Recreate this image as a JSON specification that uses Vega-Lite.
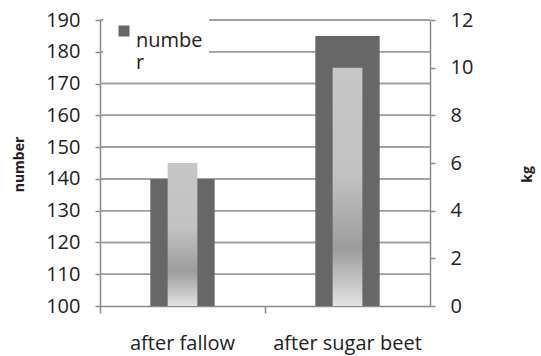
{
  "$schema": "https://vega.github.io/schema/vega-lite/v6.json",
  "autosize": "none",
  "width": 330,
  "height": 286,
  "padding": {"left": 100, "top": 20, "right": 111, "bottom": 50},
  "background": "white",
  "config": {
    "font": "Open Sans",
    "view": {"stroke": null},
    "axis": {
      "labelFont": "Open Sans",
      "labelFontSize": 20,
      "labelColor": "#222222",
      "labelOverlap": false,
      "titleFont": "Open Sans",
      "titleColor": "#222222",
      "domainColor": "#8a8a8a",
      "domainWidth": 1.5,
      "tickColor": "#8a8a8a",
      "tickWidth": 1.5,
      "grid": false
    },
    "axisLeft": {"tickCount": 10, "labelOverlap": false},
    "rule": {"color": "#9c9c9c", "strokeWidth": 1.5}
  },
  "data": {
    "values": [
      {"treatment": "after fallow", "number": 140, "kg": 6},
      {"treatment": "after sugar beet", "number": 185, "kg": 10}
    ]
  },
  "layer": [
    {
      "layer": [
        {"mark": "rule", "encoding": {"y": {"datum": 110}}},
        {"mark": "rule", "encoding": {"y": {"datum": 120}}},
        {"mark": "rule", "encoding": {"y": {"datum": 130}}},
        {"mark": "rule", "encoding": {"y": {"datum": 140}}},
        {"mark": "rule", "encoding": {"y": {"datum": 150}}},
        {"mark": "rule", "encoding": {"y": {"datum": 160}}},
        {"mark": "rule", "encoding": {"y": {"datum": 170}}},
        {"mark": "rule", "encoding": {"y": {"datum": 180}}},
        {"mark": "rule", "encoding": {"y": {"datum": 190}}},
        {
          "mark": {"type": "bar", "width": {"band": 0.39}, "color": "#676767"},
          "encoding": {
            "x": {
              "field": "treatment",
              "type": "nominal",
              "sort": null,
              "scale": {"paddingInner": 0, "paddingOuter": 0},
              "axis": {
                "title": null,
                "labelAngle": 0,
                "bandPosition": 0,
                "tickSize": 7,
                "labelPadding": 30,
                "labelBaseline": "middle",
                "labelFontSize": 20
              }
            },
            "y": {
              "field": "number",
              "type": "quantitative",
              "scale": {"domain": [100, 190], "nice": false, "zero": false},
              "axis": {
                "orient": "left",
                "values": [100, 110, 120, 130, 140, 150, 160, 170, 180, 190],
                "tickCount": 10,
                "labelOverlap": false,
                "grid": false,
                "tickSize": 5,
                "labelPadding": 15,
                "title": "number",
                "titleFontSize": 14,
                "titleFontWeight": "bold",
                "titleX": -81,
                "titleY": 144,
                "titleAngle": -90,
                "titleBaseline": "middle",
                "titleAlign": "center"
              }
            },
            "y2": {"datum": 100},
            "color": {
              "datum": "number",
              "scale": {"range": ["#676767"]},
              "legend": {
                "title": null,
                "orient": "none",
                "legendX": 3,
                "legendY": -5,
                "padding": 6,
                "fillColor": "white",
                "symbolType": "square",
                "symbolSize": 121,
                "symbolOffset": 5,
                "symbolStrokeWidth": 0,
                "labelFontSize": 20,
                "labelFont": "Open Sans",
                "labelColor": "#222222",
                "labelOffset": 2,
                "labelExpr": "['numbe', 'r']",
                "labelBaseline": "top",
                "labelLineHeight": 29
              }
            }
          }
        }
      ]
    },
    {
      "mark": {
        "type": "bar",
        "width": {"band": 0.18},
        "color": {
          "gradient": "linear",
          "x1": 0, "y1": 0, "x2": 0, "y2": 1,
          "stops": [
            {"offset": 0, "color": "#c7c7c7"},
            {"offset": 0.45, "color": "#c2c2c2"},
            {"offset": 0.76, "color": "#9c9c9c"},
            {"offset": 1, "color": "#e3e3e3"}
          ]
        }
      },
      "encoding": {
        "x": {
          "field": "treatment",
          "type": "nominal",
          "sort": null
        },
        "y": {
          "field": "kg",
          "type": "quantitative",
          "scale": {"domain": [0, 12], "nice": false},
          "axis": {
            "orient": "right",
            "values": [0, 2, 4, 6, 8, 10, 12],
            "grid": false,
            "tickSize": 5,
            "labelPadding": 15,
            "title": "kg",
            "titleFontSize": 14,
            "titleFontWeight": "bold",
            "titleX": 97,
            "titleY": 154,
            "titleAngle": -90,
            "titleBaseline": "middle",
            "titleAlign": "center"
          }
        }
      }
    }
  ],
  "resolve": {"scale": {"y": "independent", "color": "independent"}}
}
